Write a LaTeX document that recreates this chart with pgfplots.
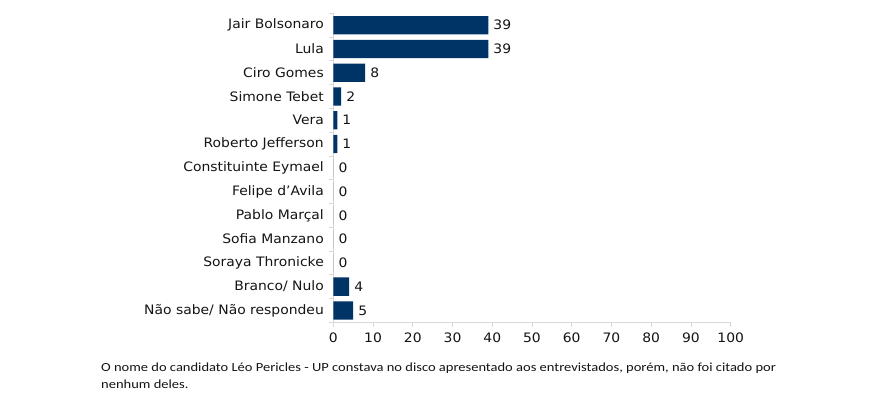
\documentclass[border=0pt]{standalone}
\usepackage{pgfplots}
\pgfplotsset{compat=1.18}
\usepackage{fontspec}
\setmainfont{DejaVu Sans}[FakeStretch=1.07]
\newfontfamily\notefont{Carlito}[FakeStretch=1.17]
\definecolor{barblue}{RGB}{0,51,102}
\definecolor{axgray}{RGB}{217,217,217}
\definecolor{txt}{RGB}{20,20,20}
\begin{document}
\begin{tikzpicture}[x=1pt,y=1pt]
\path[use as bounding box] (0,0) rectangle (871,403);
\begin{axis}[
  at={(333.3pt,80.7pt)}, anchor=south west, scale only axis,
  width=397.4pt, height=309pt,
  xmin=0, xmax=100, ymin=-0.5, ymax=12.5,
  xtick={0,10,...,100},
  ytick={0,...,12},
  yticklabels={Não sabe/ Não respondeu, Branco/ Nulo, Soraya Thronicke, Sofia Manzano, Pablo Marçal, Felipe d’Avila, Constituinte Eymael, Roberto Jefferson, Vera, Simone Tebet, Ciro Gomes, Lula, Jair Bolsonaro},
  minor ytick={-0.5,0.5,...,12.5},
  axis x line*=bottom, axis y line*=left,
  axis line style={axgray, line width=0.8pt, -},
  tick align=outside,
  major tick length=4.3pt, minor tick length=4.3pt,
  every major y tick/.style={draw=none},
  every minor y tick/.style={draw=axgray, line width=0.8pt},
  every major x tick/.style={draw=axgray, line width=0.8pt},
  tick label style={font=\fontsize{13}{13}\selectfont, text=txt},
  yticklabel style={inner sep=0pt, xshift=-5pt},
  xticklabel style={inner sep=0pt, yshift=-6pt},
  /pgf/number format/assume math mode=true,
  xbar, bar width=18.3pt,
  nodes near coords,
  nodes near coords style={font=\fontsize{13}{13}\selectfont, text=txt, anchor=west, inner sep=0pt, xshift=5pt},
  clip=false,
]
\addplot[fill=barblue, draw=none] coordinates {
  (5,0) (4,1) (0,2) (0,3) (0,4) (0,5) (0,6) (1,7) (1,8) (2,9) (8,10) (39,11) (39,12)
};
\end{axis}
\node[anchor=base west, inner sep=0pt, text=txt, font=\notefont\fontsize{12.4}{12.4}\selectfont] at (101,31) {O nome do candidato Léo Pericles - UP constava no disco apresentado aos entrevistados, porém, não foi citado por};
\node[anchor=base west, inner sep=0pt, text=txt, font=\notefont\fontsize{12.4}{12.4}\selectfont] at (101,14) {nenhum deles.};
\end{tikzpicture}
\end{document}
